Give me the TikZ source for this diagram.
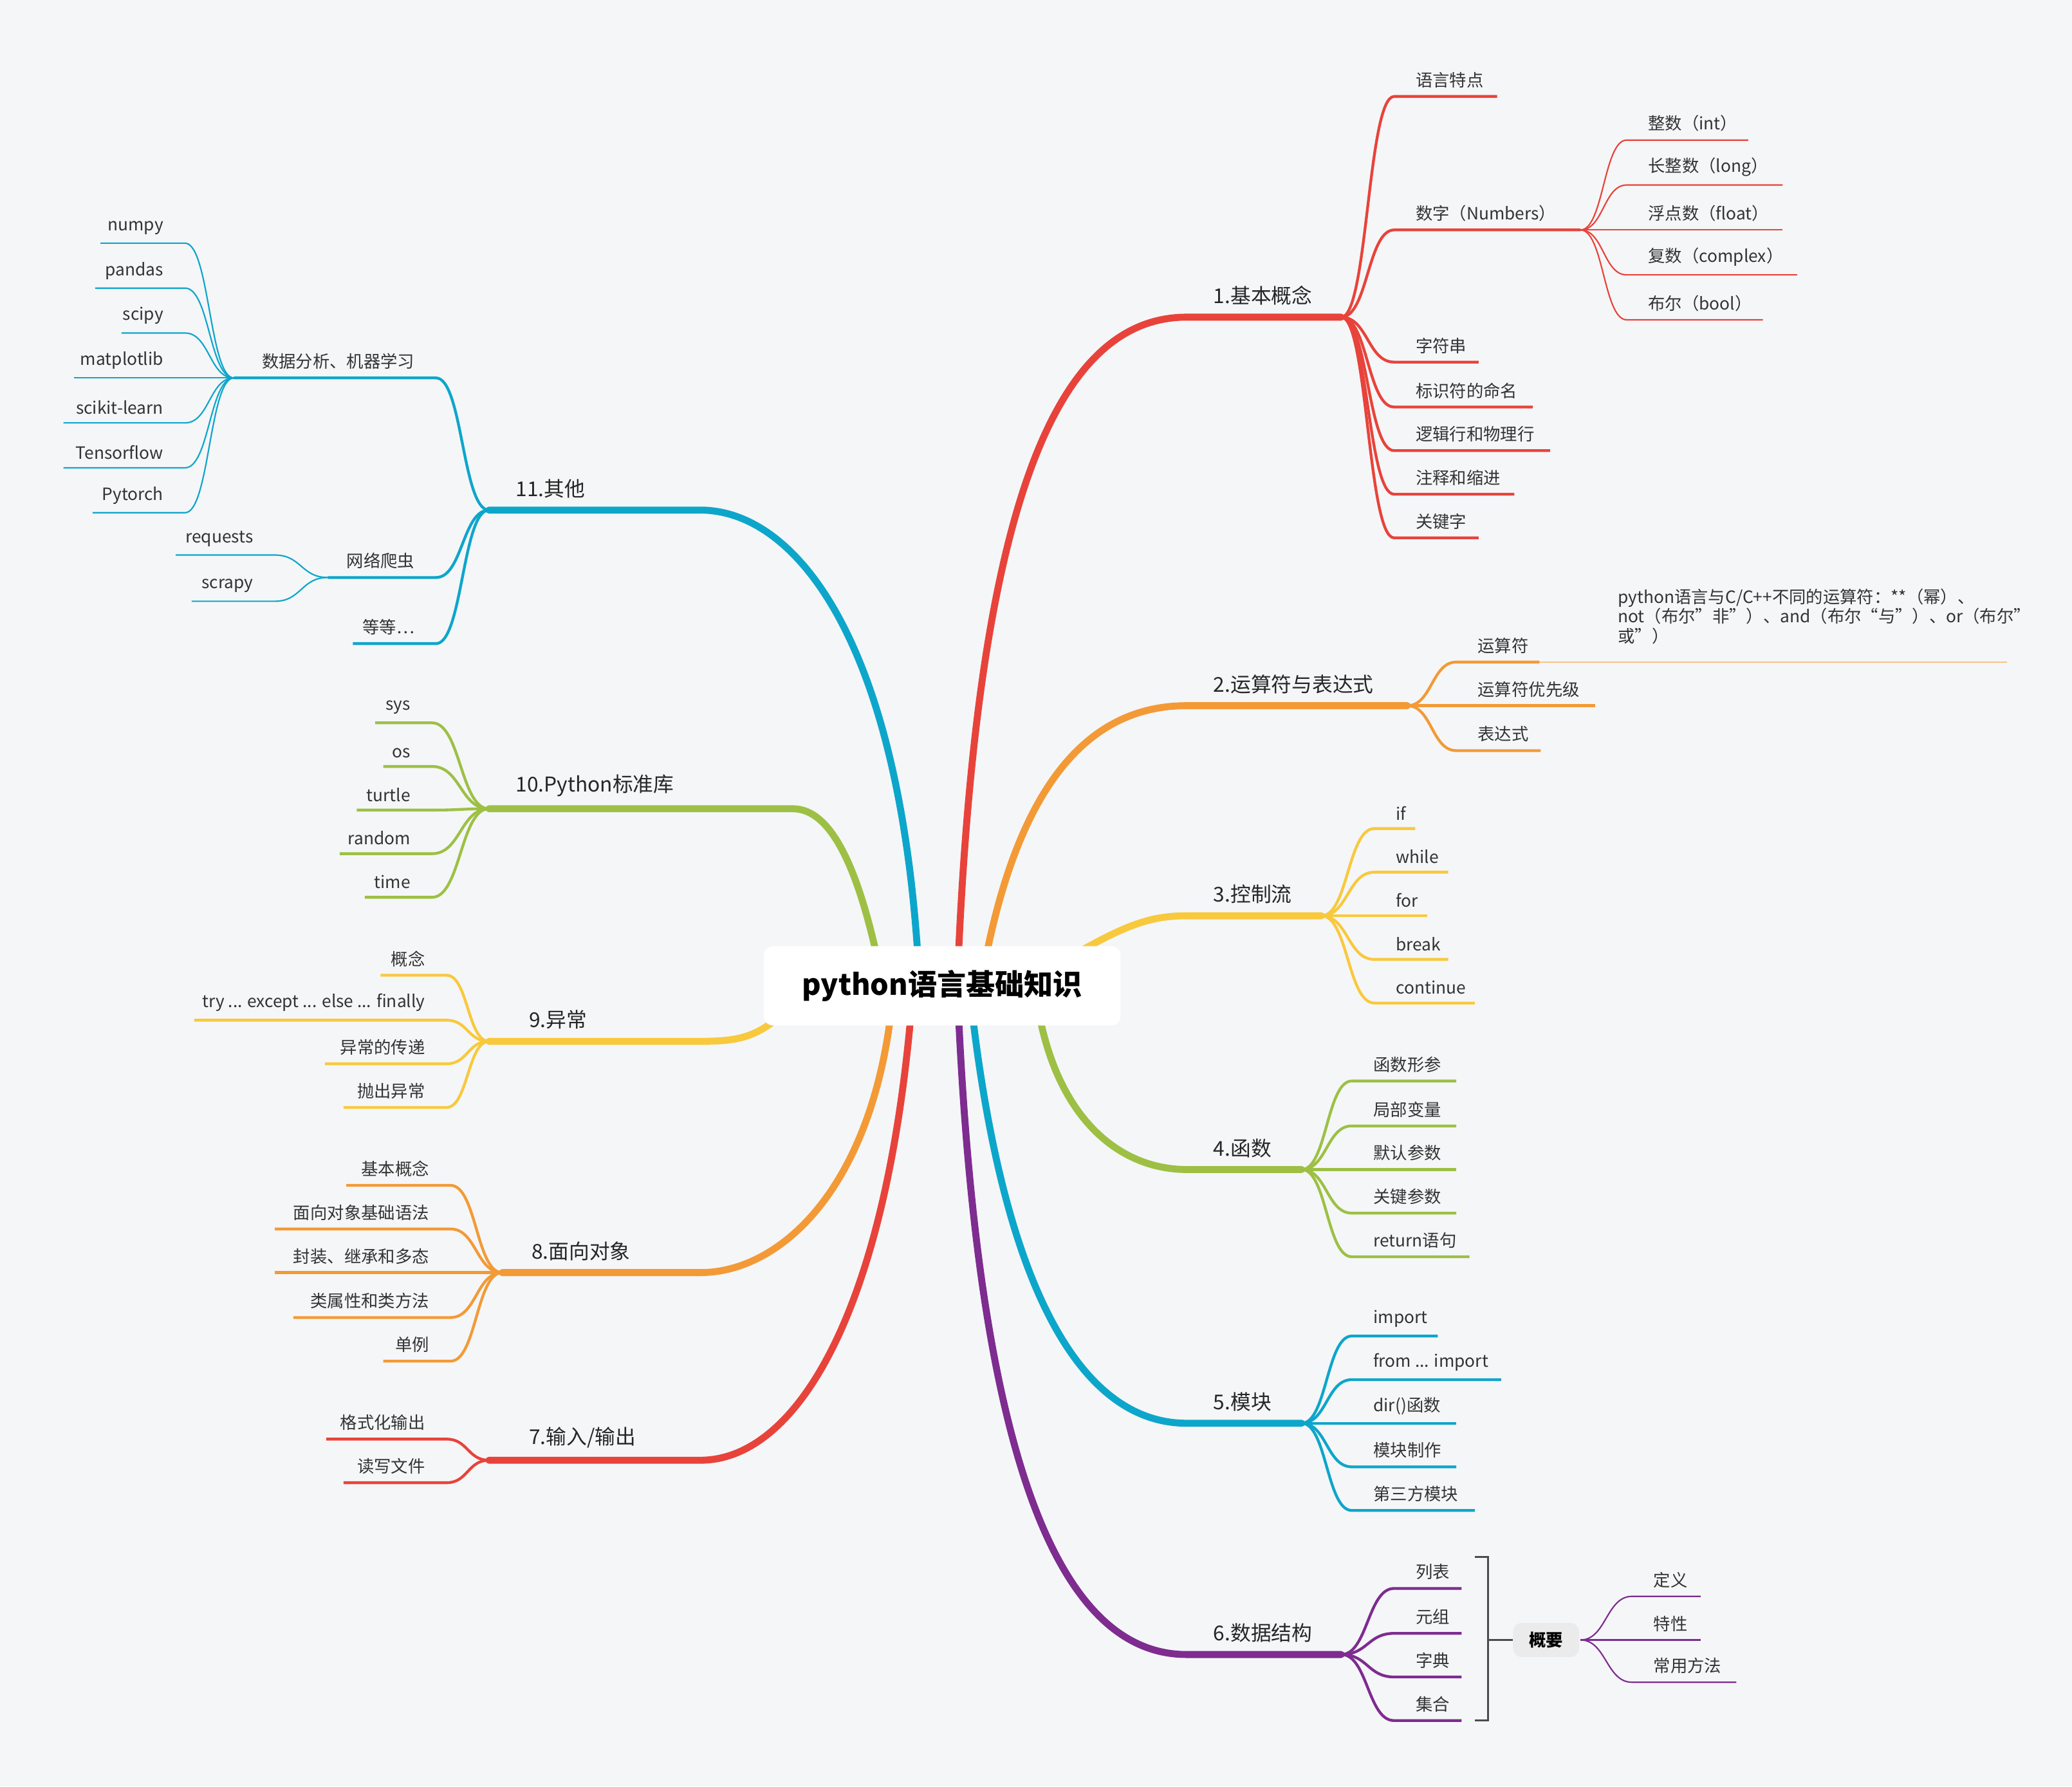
\documentclass[tikz,border=0pt]{standalone}
\usepackage{fontspec}
\setmainfont{Noto Sans CJK SC}
\definecolor{cR}{HTML}{E8433A}
\definecolor{cO}{HTML}{F39A36}
\definecolor{cY}{HTML}{F8C93D}
\definecolor{cG}{HTML}{9DC044}
\definecolor{cB}{HTML}{0DA6CB}
\definecolor{cP}{HTML}{7E2C90}
\definecolor{bg}{HTML}{F5F6F8}
\tikzset{
 leaf/.style={line width=0.6pt},
 sub/.style={line width=1.2pt},
 main/.style={line width=3pt,line cap=round},
 lt/.style={font=\fontsize{7.3}{8.5}\selectfont,inner sep=0pt,yshift=3.5pt,text=black!80},
 bt/.style={font=\fontsize{8.8}{10}\selectfont,inner sep=0pt,yshift=5pt,text=black!85},
}
\newcommand\RL[8]{\draw[#1,#8] (#2,#3) .. controls ({(#2+#4)/2},#3) and ({(#2+#4)/2},#6) .. (#4,#6) -- (#5,#6);
 \node[lt,anchor=south west] at ({#4+16},#6) {#7};}
\newcommand\LL[8]{\draw[#1,#8] (#2,#3) .. controls ({(#2+#5)/2},#3) and ({(#2+#5)/2},#6) .. (#5,#6) -- (#4,#6);
 \node[lt,anchor=south east] at ({#5-16},#6) {#7};}
\begin{document}
\begin{tikzpicture}[x=0.02cm,y=-0.02cm]
\fill[bg] (0,0) rectangle (1568,1352);
\useasboundingbox (0,0) rectangle (1568,1352);
\draw[main,cR] (725,730) .. controls (740,380) and (800,240) .. (898,240) -- (1015,240);
\draw[main,cO] (745,730) .. controls (770,600) and (820,534) .. (898,534) -- (1065,534);
\draw[main,cY] (800,730) .. controls (850,700) and (870,693) .. (898,693) -- (1000,693);
\draw[main,cG] (785,760) .. controls (800,850) and (850,885) .. (898,885) -- (985,885);
\draw[main,cB] (735,760) .. controls (760,980) and (820,1077) .. (898,1077) -- (985,1077);
\draw[main,cP] (725,760) .. controls (740,1100) and (800,1252) .. (898,1252) -- (1015,1252);
\draw[main,cB] (695,730) .. controls (680,480) and (600,386) .. (530,386) -- (370,386);
\draw[main,cG] (665,730) .. controls (650,660) and (630,612) .. (600,612) -- (370,612);
\draw[main,cY] (600,760) .. controls (575,785) and (560,788) .. (530,788) -- (370,788);
\draw[main,cO] (675,760) .. controls (660,900) and (590,963) .. (530,963) -- (380,963);
\draw[main,cR] (690,760) .. controls (670,1000) and (600,1105) .. (530,1105) -- (370,1105);
\node[fill=white,rounded corners=4pt,minimum width=5.4cm,minimum height=1.2cm,font=\fontsize{12.5}{14}\selectfont\bfseries] (center) at (713,746) {python语言基础知识};
\node[bt,anchor=south west] (b1) at (918,240) {1.基本概念};
\node[bt,anchor=south west] (b2) at (918,534) {2.运算符与表达式};
\node[bt,anchor=south west] (b3) at (918,693) {3.控制流};
\node[bt,anchor=south west] (b4) at (918,885) {4.函数};
\node[bt,anchor=south west] (b5) at (918,1077) {5.模块};
\node[bt,anchor=south west] (b6) at (918,1252) {6.数据结构};
\node[bt,anchor=south west] (b11) at (390,386) {11.其他};
\node[bt,anchor=south west] (b10) at (390,612) {10.Python标准库};
\node[bt,anchor=south west] (b9) at (400,788) {9.异常};
\node[bt,anchor=south west] (b8) at (402,963) {8.面向对象};
\node[bt,anchor=south west] (b7) at (400,1105) {7.输入/输出};
% 1
\RL{cR}{1015}{240}{1055}{1133}{73}{语言特点}{sub}
\RL{cR}{1015}{240}{1055}{1196}{174}{数字（Numbers）}{sub}
\RL{cR}{1015}{240}{1055}{1119}{274}{字符串}{sub}
\RL{cR}{1015}{240}{1055}{1160}{308}{标识符的命名}{sub}
\RL{cR}{1015}{240}{1055}{1173}{341}{逻辑行和物理行}{sub}
\RL{cR}{1015}{240}{1055}{1146}{374}{注释和缩进}{sub}
\RL{cR}{1015}{240}{1055}{1119}{407}{关键字}{sub}
\RL{cR}{1196}{174}{1231}{1323}{106}{整数（int）}{leaf}
\RL{cR}{1196}{174}{1231}{1349}{140}{长整数（long）}{leaf}
\RL{cR}{1196}{174}{1231}{1349}{174}{浮点数（float）}{leaf}
\RL{cR}{1196}{174}{1231}{1360}{208}{复数（complex）}{leaf}
\RL{cR}{1196}{174}{1231}{1334}{242}{布尔（bool）}{leaf}
% 2
\RL{cO}{1065}{534}{1102}{1165}{501}{运算符}{sub}
\draw[cO!60,leaf] (1165,501) -- (1519,501);
\node[lt,anchor=south west,yshift=4pt,align=left] (note) at (1224,501) {python语言与C/C++不同的运算符：**（幂）、\\not（布尔"非"）、and（布尔“与”）、or（布尔"\\或”）};
\RL{cO}{1065}{534}{1102}{1207}{534}{运算符优先级}{sub}
\RL{cO}{1065}{534}{1102}{1166}{568}{表达式}{sub}
% 3
\RL{cY}{1000}{693}{1040}{1071}{627}{if}{sub}
\RL{cY}{1000}{693}{1040}{1096}{660}{while}{sub}
\RL{cY}{1000}{693}{1040}{1080}{693}{for}{sub}
\RL{cY}{1000}{693}{1040}{1096}{726}{break}{sub}
\RL{cY}{1000}{693}{1040}{1116}{759}{continue}{sub}
% 4
\RL{cG}{985}{885}{1023}{1102}{818}{函数形参}{sub}
\RL{cG}{985}{885}{1023}{1102}{852}{局部变量}{sub}
\RL{cG}{985}{885}{1023}{1102}{885}{默认参数}{sub}
\RL{cG}{985}{885}{1023}{1102}{918}{关键参数}{sub}
\RL{cG}{985}{885}{1023}{1112}{951}{return语句}{sub}
% 5
\RL{cB}{985}{1077}{1023}{1088}{1011}{import}{sub}
\RL{cB}{985}{1077}{1023}{1136}{1044}{from ... import}{sub}
\RL{cB}{985}{1077}{1023}{1102}{1077}{dir()函数}{sub}
\RL{cB}{985}{1077}{1023}{1102}{1110}{模块制作}{sub}
\RL{cB}{985}{1077}{1023}{1116}{1143}{第三方模块}{sub}
% 6
\RL{cP}{1015}{1252}{1055}{1106}{1202}{列表}{sub}
\RL{cP}{1015}{1252}{1055}{1106}{1236}{元组}{sub}
\RL{cP}{1015}{1252}{1055}{1106}{1269}{字典}{sub}
\RL{cP}{1015}{1252}{1055}{1106}{1302}{集合}{sub}
\draw[black!70,line width=0.8pt] (1116,1178) -- (1126,1178) -- (1126,1302) -- (1116,1302);
\coordinate (bm) at (1126,1241);
\node[fill=black!8,rounded corners=4pt,font=\fontsize{7.3}{8.5}\selectfont\bfseries,minimum width=1cm,minimum height=0.52cm,inner sep=1pt] (gy) at (1170,1241) {概要};
\draw[black!70,line width=0.8pt] (bm) -- (gy.west);
\RL{cP}{1196}{1241}{1235}{1287}{1208}{定义}{leaf}
\RL{cP}{1196}{1241}{1235}{1287}{1241}{特性}{leaf}
\RL{cP}{1196}{1241}{1235}{1314}{1273}{常用方法}{leaf}
% 11
\LL{cB}{370}{386}{177}{330}{286}{数据分析、机器学习}{sub}
\LL{cB}{370}{386}{248}{330}{437}{网络爬虫}{sub}
\LL{cB}{370}{386}{267}{330}{487}{等等…}{sub}
\LL{cB}{177}{286}{76}{140}{184}{numpy}{leaf}
\LL{cB}{177}{286}{72}{140}{218}{pandas}{leaf}
\LL{cB}{177}{286}{92}{140}{252}{scipy}{leaf}
\LL{cB}{177}{286}{56}{140}{286}{matplotlib}{leaf}
\LL{cB}{177}{286}{48}{140}{320}{scikit-learn}{leaf}
\LL{cB}{177}{286}{48}{140}{354}{Tensorflow}{leaf}
\LL{cB}{177}{286}{70}{140}{388}{Pytorch}{leaf}
\LL{cB}{248}{437}{133}{208}{420}{requests}{leaf}
\LL{cB}{248}{437}{145}{208}{455}{scrapy}{leaf}
% 10
\LL{cG}{370}{612}{284}{327}{547}{sys}{sub}
\LL{cG}{370}{612}{290}{327}{580}{os}{sub}
\LL{cG}{370}{612}{270}{327}{613}{turtle}{sub}
\LL{cG}{370}{612}{257}{327}{646}{random}{sub}
\LL{cG}{370}{612}{276}{327}{679}{time}{sub}
% 9
\LL{cY}{370}{788}{288}{338}{738}{概念}{sub}
\LL{cY}{370}{788}{147}{338}{772}{try ... except ... else ... finally}{sub}
\LL{cY}{370}{788}{246}{338}{805}{异常的传递}{sub}
\LL{cY}{370}{788}{260}{338}{838}{抛出异常}{sub}
% 8
\LL{cO}{380}{963}{262}{341}{897}{基本概念}{sub}
\LL{cO}{380}{963}{208}{341}{930}{面向对象基础语法}{sub}
\LL{cO}{380}{963}{208}{341}{963}{封装、继承和多态}{sub}
\LL{cO}{380}{963}{222}{341}{997}{类属性和类方法}{sub}
\LL{cO}{380}{963}{290}{341}{1030}{单例}{sub}
% 7
\LL{cR}{370}{1105}{247}{338}{1089}{格式化输出}{sub}
\LL{cR}{370}{1105}{260}{338}{1122}{读写文件}{sub}
\end{tikzpicture}
\end{document}
